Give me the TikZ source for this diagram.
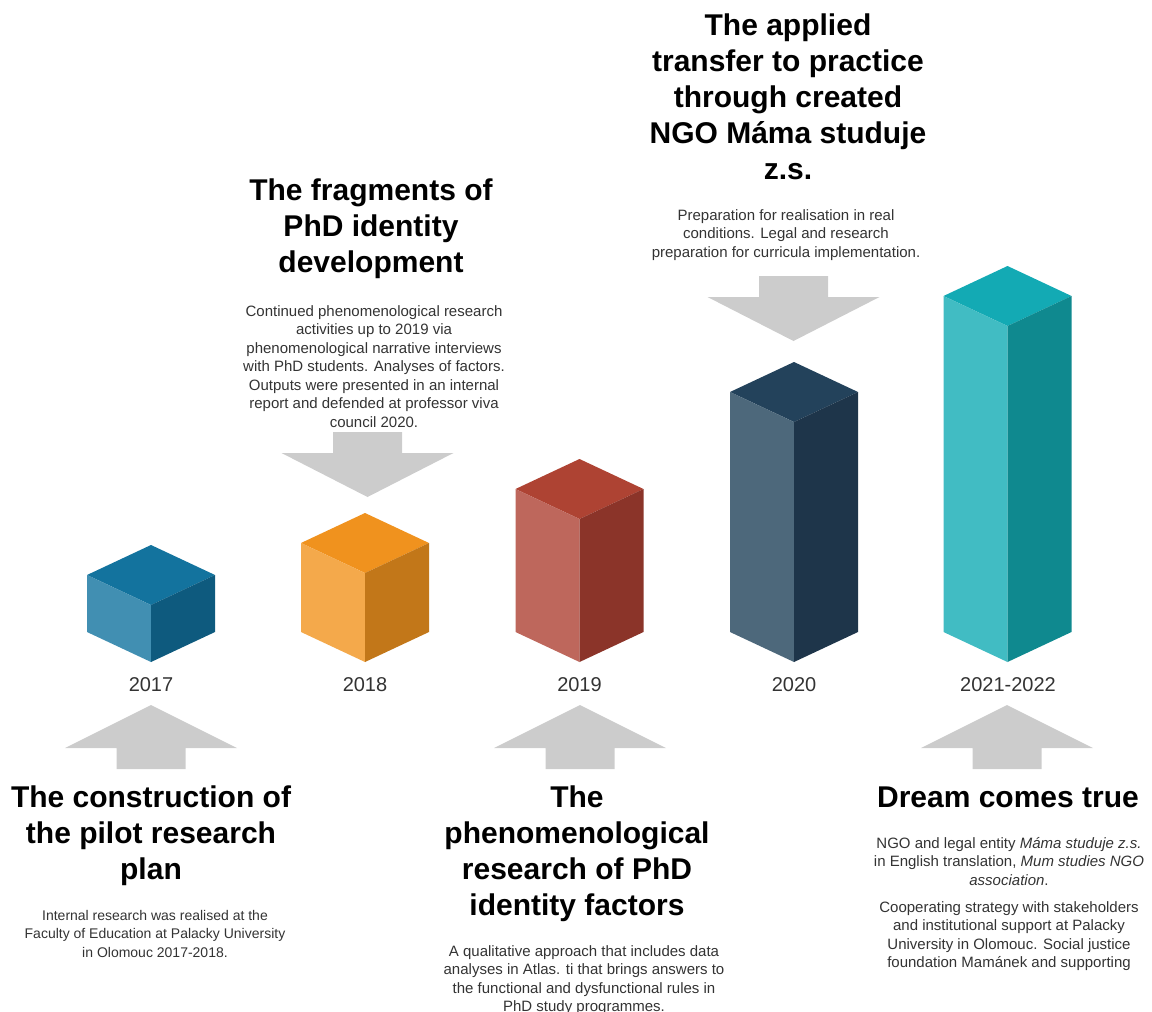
\documentclass[tikz,border=0pt]{standalone}
\usepackage{fontspec}
\setmainfont{Liberation Sans}
\usepackage{tikz}

\definecolor{arrowgray}{HTML}{CCCCCC}
\definecolor{txtgray}{HTML}{333333}
\definecolor{topA}{HTML}{13739E}\definecolor{leftA}{HTML}{418FB2}\definecolor{rightA}{HTML}{0E5A7E}
\definecolor{topB}{HTML}{F0921E}\definecolor{leftB}{HTML}{F4A94B}\definecolor{rightB}{HTML}{C27719}
\definecolor{topC}{HTML}{AE4333}\definecolor{leftC}{HTML}{BE675C}\definecolor{rightC}{HTML}{8B3429}
\definecolor{topD}{HTML}{23425B}\definecolor{leftD}{HTML}{4D687B}\definecolor{rightD}{HTML}{1E354A}
\definecolor{topE}{HTML}{13AAB4}\definecolor{leftE}{HTML}{41BCC3}\definecolor{rightE}{HTML}{0F898F}

\tikzset{
  arrowshape/.style={fill=arrowgray},
  heading/.style={font=\fontsize{30}{36}\selectfont\bfseries, text=black, align=center, anchor=base, inner sep=0pt},
  body/.style={font=\fontsize{15}{18.5}\selectfont, text=txtgray, align=center, anchor=base, inner sep=0pt},
  year/.style={font=\fontsize{20}{24}\selectfont, text=txtgray, anchor=base, inner sep=0pt}
}

\begin{document}
\begin{tikzpicture}[x=1pt,y=-1pt]
\useasboundingbox (0,0) rectangle (1152,1012);

\fill[topA] (151,545) -- (215,575) -- (151,605) -- (87,575) -- cycle ; % Cube.2017
\fill[leftA] (87,575) -- (151,605) -- (151,662) -- (87,632) -- cycle ; % Cube.2017
\fill[rightA] (151,605) -- (215,575) -- (215,632) -- (151,662) -- cycle ; % Cube.2017
\fill[topB] (365,513) -- (429,543) -- (365,573) -- (301,543) -- cycle ; % Cube.2018
\fill[leftB] (301,543) -- (365,573) -- (365,662) -- (301,632) -- cycle ; % Cube.2018
\fill[rightB] (365,573) -- (429,543) -- (429,632) -- (365,662) -- cycle ; % Cube.2018
\fill[topC] (579.5,459) -- (643.5,489) -- (579.5,519) -- (515.5,489) -- cycle ; % Cube.2019
\fill[leftC] (515.5,489) -- (579.5,519) -- (579.5,662) -- (515.5,632) -- cycle ; % Cube.2019
\fill[rightC] (579.5,519) -- (643.5,489) -- (643.5,632) -- (579.5,662) -- cycle ; % Cube.2019
\fill[topD] (794,362) -- (858,392) -- (794,422) -- (730,392) -- cycle ; % Cube.2020
\fill[leftD] (730,392) -- (794,422) -- (794,662) -- (730,632) -- cycle ; % Cube.2020
\fill[rightD] (794,422) -- (858,392) -- (858,632) -- (794,662) -- cycle ; % Cube.2020
\fill[topE] (1007.5,266) -- (1071.5,296) -- (1007.5,326) -- (943.5,296) -- cycle ; % Cube.2021
\fill[leftE] (943.5,296) -- (1007.5,326) -- (1007.5,662) -- (943.5,632) -- cycle ; % Cube.2021
\fill[rightE] (1007.5,326) -- (1071.5,296) -- (1071.5,632) -- (1007.5,662) -- cycle ; % Cube.2021

\fill[arrowshape] (151,705) -- (237,748) -- (185.5,748) -- (185.5,769) -- (116.5,769) -- (116.5,748) -- (65,748) -- cycle ; % Up.2017
\fill[arrowshape] (580,705) -- (666,748) -- (614.5,748) -- (614.5,769) -- (545.5,769) -- (545.5,748) -- (494,748) -- cycle ; % Up.2019
\fill[arrowshape] (1007,705) -- (1093,748) -- (1041.5,748) -- (1041.5,769) -- (972.5,769) -- (972.5,748) -- (921,748) -- cycle ; % Up.2021
\fill[arrowshape] (333,432) -- (402,432) -- (402,453) -- (453.5,453) -- (367.5,497) -- (281.5,453) -- (333,453) -- cycle ; % Down.2018
\fill[arrowshape] (759,276) -- (828,276) -- (828,297) -- (879.5,297) -- (793.5,341) -- (707.5,297) -- (759,297) -- cycle ; % Down.2020

\node[year] (Y17) at (151,691) {2017};
\node[year] (Y18) at (365,691) {2018};
\node[year] (Y19) at (579.5,691) {2019};
\node[year] (Y20) at (794,691) {2020};
\node[year] (Y21) at (1008,691) {2021-2022};

% base anchor sits on the last line
\node[heading] (H17) at (151,879.5) {The construction of\\the pilot research\\plan};
\node[heading] (H18) at (371,272.5) {The fragments of\\PhD identity\\development};
\node[heading] (H19) at (577,915.5) {The\\phenomenological\\research of PhD\\identity factors};
\node[heading] (H20) at (788,179.5) {The applied\\transfer to practice\\through created\\NGO Máma studuje\\z.s.};
\node[heading] (H21) at (1008,807.5) {Dream comes true};

\node[body, font=\fontsize{14}{18.5}\selectfont] (B17) at (155,957) {Internal research was realised at the\\Faculty of Education at Palacky University\\in Olomouc 2017-2018.};
\node[body] (B18) at (374,427) {Continued phenomenological research\\activities up to 2019 via\\phenomenological narrative interviews\\with PhD students. Analyses of factors.\\Outputs were presented in an internal\\report and defended at professor viva\\council 2020.};
\node[body] (B19) at (584,1011.5) {A qualitative approach that includes data\\analyses in Atlas. ti that brings answers to\\the functional and dysfunctional rules in\\PhD study programmes.};
\node[body] (B20) at (786,257) {Preparation for realisation in real\\conditions. Legal and research\\preparation for curricula implementation.};
\node[body] (B21) at (1009,967.5) {NGO and legal entity \textit{Máma studuje z.s.}\\in English translation, \textit{Mum studies NGO}\\\textit{association}.\\[8.5pt]Cooperating strategy with stakeholders\\and institutional support at Palacky\\University in Olomouc. Social justice\\foundation Mamánek and supporting};
\end{tikzpicture}
\end{document}
